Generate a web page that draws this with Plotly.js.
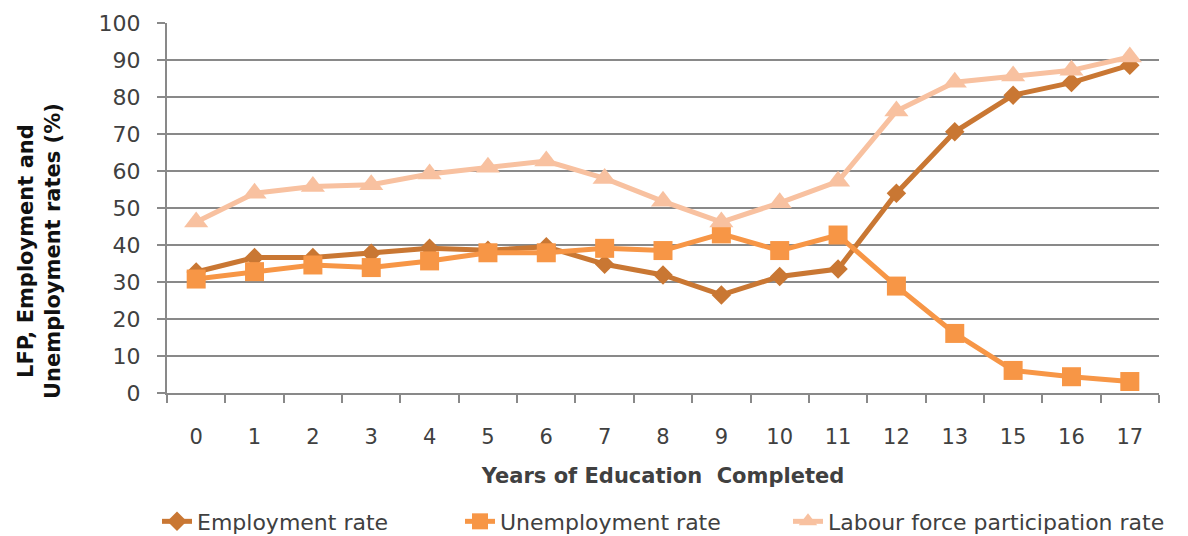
<!DOCTYPE html>
<html>
<head>
<meta charset="utf-8">
<script src="https://cdn.plot.ly/plotly-3.0.1.min.js"></script>
<style>
  html, body { margin: 0; padding: 0; background: #fff; }
  #chart { width: 1188px; height: 536px; }
</style>
</head>
<body>
<div id="chart"></div>
<script>
// Years of education completed (category labels, 14 is absent)
const years = ['0', '1', '2', '3', '4', '5', '6', '7', '8', '9', '10', '11', '12', '13', '15', '16', '17'];

// Rates in percent
const employmentRate   = [32.7, 36.6, 36.6, 37.8, 39.1, 38.6, 39.5, 34.8, 31.9, 26.5, 31.5, 33.5, 54.0, 70.6, 80.5, 83.9, 88.6];
const unemploymentRate = [30.8, 32.8, 34.6, 33.9, 35.7, 37.9, 37.9, 39.1, 38.5, 43.0, 38.5, 42.7, 28.9, 16.1, 6.1, 4.4, 3.1];
const lfpRate          = [46.2, 54.0, 55.8, 56.3, 59.2, 61.0, 62.7, 58.0, 51.8, 46.2, 51.4, 57.2, 76.2, 84.0, 85.7, 87.2, 90.8];

const seriesNames = ['Employment rate', 'Unemployment rate', 'Labour force participation rate'];
const yTitle = 'LFP, Employment and<br>Unemployment rates (%)';
const xTitle = 'Years of Education  Completed';

const axisGrey = '#898989';
const textGrey = '#404040';
const fontFamily = 'DejaVu Sans, sans-serif';

const traces = [
  {
    x: years, y: employmentRate, name: seriesNames[0], type: 'scatter', mode: 'lines+markers',
    legend: 'legend',
    line: { color: '#C97733', width: 5 },
    marker: { symbol: 'diamond', size: 15, color: '#C97733' }
  },
  {
    x: years, y: unemploymentRate, name: seriesNames[1], type: 'scatter', mode: 'lines+markers',
    legend: 'legend2',
    line: { color: '#F79646', width: 5 },
    marker: { symbol: 'square', size: 19, color: '#F79646' }
  },
  {
    x: years, y: lfpRate, name: seriesNames[2], type: 'scatter', mode: 'lines+markers',
    legend: 'legend3',
    line: { color: '#F8C1A0', width: 5 },
    marker: { symbol: 'triangle-up', size: 21, color: '#F8C1A0' }
  }
];

// one legend box per series, laid out in a single row under the axis title
function legendAt(xPixel) {
  return {
    orientation: 'h',
    xref: 'container', x: xPixel / 1188, xanchor: 'left',
    yref: 'container', y: 0.027, yanchor: 'middle',
    font: { family: fontFamily, size: 22, color: textGrey },
    bgcolor: 'rgba(0,0,0,0)',
    itemwidth: 30
  };
}

const layout = {
  width: 1188,
  height: 536,
  margin: { l: 167, r: 29, t: 23, b: 143 },
  paper_bgcolor: '#ffffff',
  plot_bgcolor: '#ffffff',
  font: { family: fontFamily, color: textGrey },
  showlegend: true,
  legend: legendAt(157),
  legend2: legendAt(460),
  legend3: legendAt(788),
  xaxis: {
    type: 'category',
    range: [-0.5, years.length - 0.5],
    tickmode: 'array',
    tickvals: years,
    ticktext: years,
    showgrid: false,
    showline: true,
    linecolor: axisGrey,
    linewidth: 2,
    ticks: 'outside',
    tickson: 'boundaries',
    ticklen: 8,
    tickwidth: 2,
    tickcolor: axisGrey,
    ticklabelstandoff: 24,
    tickfont: { family: fontFamily, size: 21, color: textGrey },
    zeroline: false,
    automargin: false,
    title: {
      text: xTitle,
      font: { family: fontFamily, size: 21, color: textGrey, weight: 'bold' },
      standoff: 20
    }
  },
  yaxis: {
    range: [0, 100],
    dtick: 10,
    tick0: 0,
    showgrid: true,
    gridcolor: axisGrey,
    gridwidth: 2,
    showline: true,
    linecolor: axisGrey,
    linewidth: 2,
    ticks: 'outside',
    ticklen: 8,
    tickwidth: 2,
    tickcolor: axisGrey,
    ticklabelstandoff: 12,
    tickfont: { family: fontFamily, size: 22, color: textGrey },
    zeroline: false,
    automargin: false
  },
  annotations: [
    {
      // vertical axis title, sitting a little below the middle of the axis
      text: yTitle,
      xref: 'paper', yref: 'paper',
      x: -0.128, y: 0.384,
      xanchor: 'center', yanchor: 'middle',
      textangle: -90,
      showarrow: false,
      align: 'center',
      font: { family: fontFamily, size: 21, color: '#111111', weight: 'bold' }
    }
  ]
};

Plotly.newPlot('chart', traces, layout, { displayModeBar: false, staticPlot: true });
</script>
</body>
</html>
